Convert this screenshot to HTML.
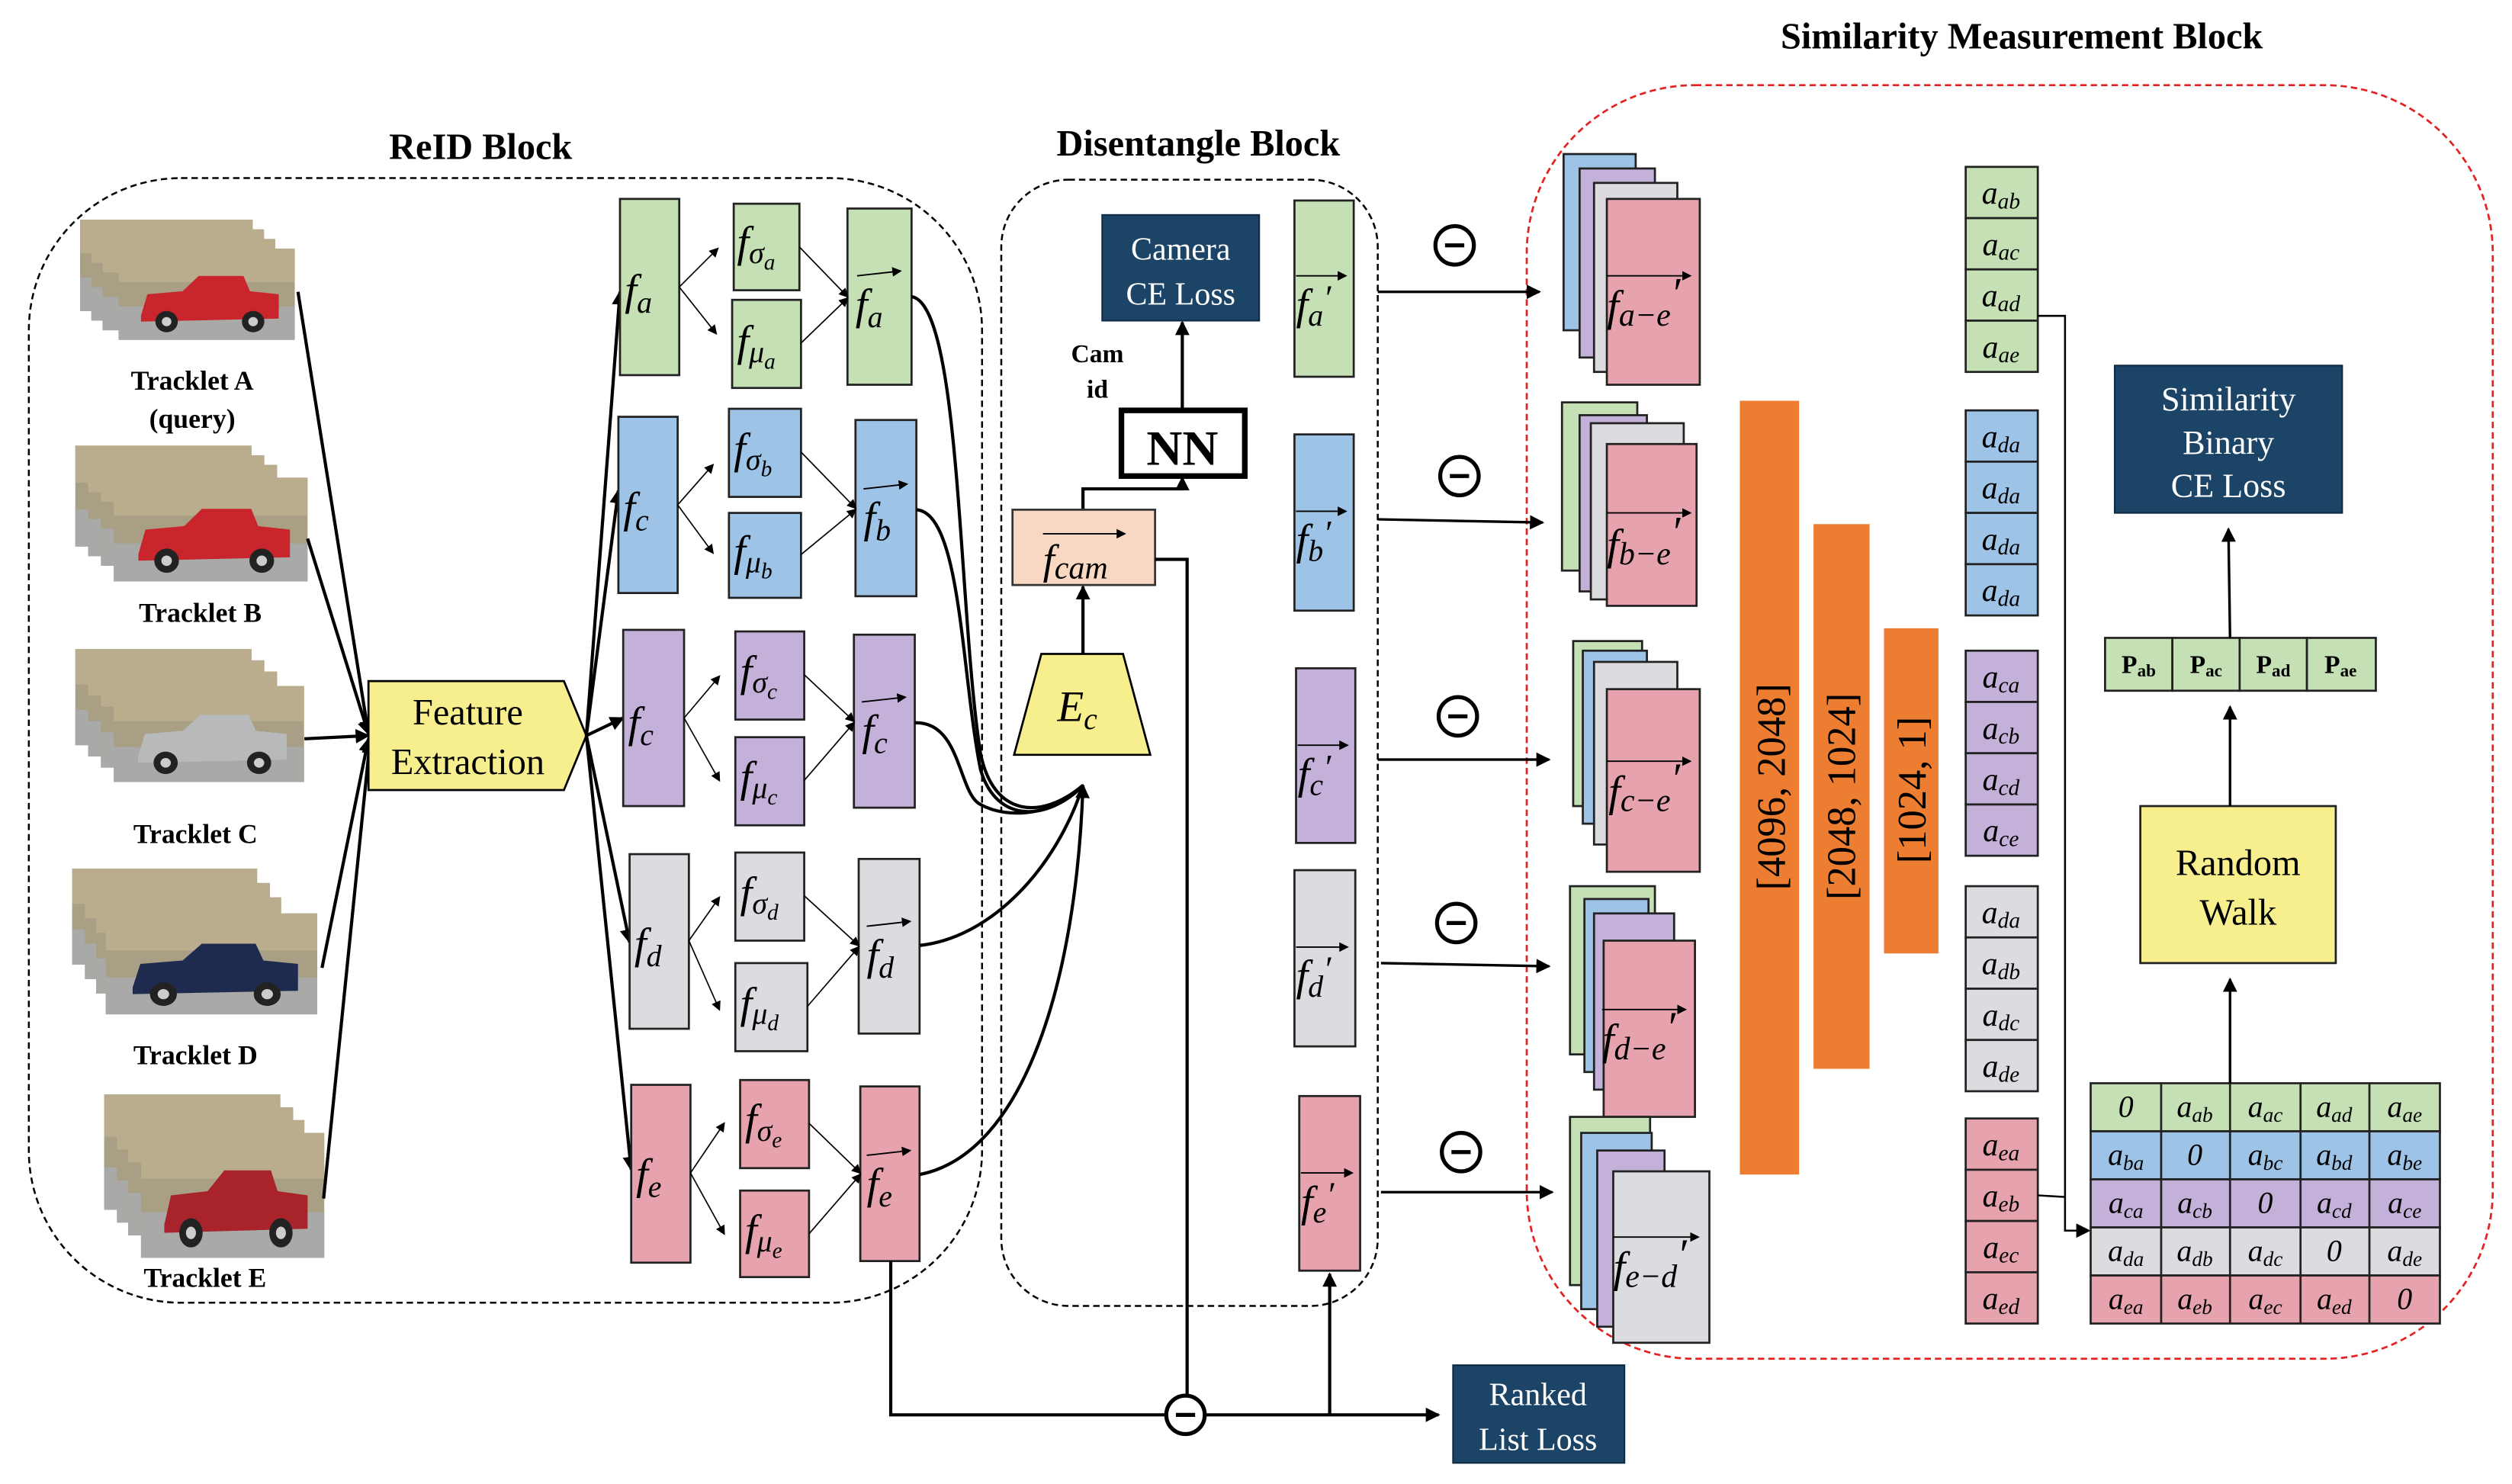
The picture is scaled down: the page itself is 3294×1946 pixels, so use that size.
<!DOCTYPE html>
<html><head><meta charset="utf-8">
<style>
html,body{margin:0;padding:0;background:#fff;}
svg{display:block;}
.t{font-family:"Liberation Serif",serif;}
.m{font-family:"Liberation Serif",serif;font-style:italic;}
.b{font-family:"Liberation Serif",serif;font-weight:bold;}
</style></head><body>
<svg width="3294" height="1946" viewBox="0 0 1568 926" xmlns="http://www.w3.org/2000/svg">
<defs>
<marker id="a" markerWidth="9" markerHeight="9" refX="8" refY="4.5" orient="auto" markerUnits="userSpaceOnUse"><path d="M0,0 L9,4.5 L0,9z" fill="#000"/></marker>
<marker id="s" markerWidth="6" markerHeight="6" refX="5" refY="3" orient="auto" markerUnits="userSpaceOnUse"><path d="M0,0 L6,3 L0,6z" fill="#000"/></marker>
<g id="ph">
<rect x="0" y="0" width="110" height="60" fill="#a89f85"/>
<rect x="0" y="0" width="110" height="22" fill="#b9ad8e"/>
<rect x="0" y="38" width="110" height="22" fill="#a9a9a7"/>
<path d="M14,44 L18,30 L40,28 L50,18 L78,18 L82,28 L100,30 L100,46 L14,48z" fill="currentColor"/>
<circle cx="30" cy="48" r="7" fill="#222"/><circle cx="84" cy="48" r="7" fill="#222"/>
<circle cx="30" cy="48" r="3" fill="#ccc"/><circle cx="84" cy="48" r="3" fill="#ccc"/>
</g>
</defs>

<text x="300" y="99" class="b" font-size="23" text-anchor="middle">ReID Block</text>
<text x="748" y="97" class="b" font-size="23" text-anchor="middle">Disentangle Block</text>
<text x="1262" y="30" class="b" font-size="23" text-anchor="middle">Similarity Measurement Block</text>

<rect x="18" y="111" width="595" height="702" rx="95" fill="none" stroke="#000" stroke-width="1.2" stroke-dasharray="4,2.5"/>
<rect x="625" y="112" width="235" height="703" rx="42" fill="none" stroke="#000" stroke-width="1.2" stroke-dasharray="4,2.5"/>
<rect x="953" y="53" width="603" height="795" rx="105" fill="none" stroke="#e32222" stroke-width="1.3" stroke-dasharray="4,2.5"/>

<g style="color:#c8262c">
<use href="#ph" transform="translate(50,137) scale(0.98,0.95)"/><use href="#ph" transform="translate(57,143) scale(0.98,0.95)"/><use href="#ph" transform="translate(64,149) scale(0.98,0.95)"/><use href="#ph" transform="translate(74,155) scale(1.0,0.95)"/>
</g>
<text x="120" y="243" class="b" font-size="17" text-anchor="middle">Tracklet A</text>
<text x="120" y="267" class="b" font-size="17" text-anchor="middle">(query)</text>
<g style="color:#c8262c">
<use href="#ph" transform="translate(47,278) scale(1.0,1.05)"/><use href="#ph" transform="translate(55,284) scale(1.0,1.05)"/><use href="#ph" transform="translate(63,290) scale(1.0,1.05)"/><use href="#ph" transform="translate(71,298) scale(1.1,1.08)"/>
</g>
<text x="125" y="388" class="b" font-size="17" text-anchor="middle">Tracklet B</text>
<g style="color:#b8b9bb">
<use href="#ph" transform="translate(47,405) scale(1.0,1.0)"/><use href="#ph" transform="translate(55,412) scale(1.0,1.0)"/><use href="#ph" transform="translate(63,419) scale(1.0,1.0)"/><use href="#ph" transform="translate(71,428) scale(1.08,1.0)"/>
</g>
<text x="122" y="526" class="b" font-size="17" text-anchor="middle">Tracklet C</text>
<g style="color:#1f2a4f">
<use href="#ph" transform="translate(45,542) scale(1.05,1.0)"/><use href="#ph" transform="translate(53,551) scale(1.05,1.0)"/><use href="#ph" transform="translate(60,560) scale(1.05,1.0)"/><use href="#ph" transform="translate(66,570) scale(1.2,1.05)"/>
</g>
<text x="122" y="664" class="b" font-size="17" text-anchor="middle">Tracklet D</text>
<g style="color:#a8232a">
<use href="#ph" transform="translate(65,683) scale(1.0,1.2)"/><use href="#ph" transform="translate(73,691) scale(1.0,1.2)"/><use href="#ph" transform="translate(80,699) scale(1.0,1.2)"/><use href="#ph" transform="translate(88,707) scale(1.04,1.3)"/>
</g>
<text x="128" y="803" class="b" font-size="17" text-anchor="middle">Tracklet E</text>

<g stroke="#000" stroke-width="2" fill="none" marker-end="url(#a)">
<line x1="186" y1="182" x2="230" y2="458"/>
<line x1="192" y1="336" x2="230" y2="458"/>
<line x1="190" y1="461" x2="230" y2="459"/>
<line x1="201" y1="604" x2="230" y2="461"/>
<line x1="202" y1="748" x2="231" y2="462"/>
</g>
<polygon points="230,425 352,425 366,459 352,493 230,493" fill="#f7ef8e" stroke="#000" stroke-width="1.3"/>
<text x="292" y="452" class="t" font-size="23" text-anchor="middle">Feature</text>
<text x="292" y="483" class="t" font-size="23" text-anchor="middle">Extraction</text>
<g stroke="#000" stroke-width="2" fill="none" marker-end="url(#a)">
<line x1="366" y1="459" x2="387" y2="182"/>
<line x1="366" y1="459" x2="386" y2="306"/>
<line x1="366" y1="459" x2="389" y2="448"/>
<line x1="366" y1="459" x2="393" y2="588"/>
<line x1="366" y1="459" x2="394" y2="730"/>
</g>

<g stroke="#222" stroke-width="1.3">
<rect x="387" y="124" width="37" height="110" fill="#c5e0b4"/><rect x="458" y="127" width="41" height="54" fill="#c5e0b4"/><rect x="457" y="187" width="43" height="55" fill="#c5e0b4"/><rect x="529" y="130" width="40" height="110" fill="#c5e0b4"/>
<rect x="386" y="260" width="37" height="110" fill="#9dc3e6"/><rect x="455" y="255" width="45" height="55" fill="#9dc3e6"/><rect x="455" y="320" width="45" height="53" fill="#9dc3e6"/><rect x="534" y="262" width="38" height="110" fill="#9dc3e6"/>
<rect x="389" y="393" width="38" height="110" fill="#c3b1d9"/><rect x="459" y="394" width="43" height="55" fill="#c3b1d9"/><rect x="459" y="460" width="43" height="55" fill="#c3b1d9"/><rect x="533" y="396" width="38" height="108" fill="#c3b1d9"/>
<rect x="393" y="533" width="37" height="109" fill="#dcdce0"/><rect x="459" y="532" width="43" height="55" fill="#dcdce0"/><rect x="459" y="601" width="45" height="55" fill="#dcdce0"/><rect x="536" y="536" width="38" height="109" fill="#dcdce0"/>
<rect x="394" y="677" width="37" height="111" fill="#e6a3ad"/><rect x="462" y="674" width="43" height="55" fill="#e6a3ad"/><rect x="462" y="743" width="43" height="54" fill="#e6a3ad"/><rect x="537" y="678" width="37" height="109" fill="#e6a3ad"/>
</g>
<g stroke="#000" stroke-width="0.8" fill="none" marker-end="url(#s)">
<line x1="424" y1="179" x2="448" y2="155"/><line x1="424" y1="179" x2="447" y2="208"/><line x1="499" y1="154" x2="529" y2="185"/><line x1="500" y1="214" x2="529" y2="186"/>
<line x1="423" y1="315" x2="445" y2="290"/><line x1="423" y1="315" x2="445" y2="345"/><line x1="500" y1="282" x2="534" y2="317"/><line x1="500" y1="346" x2="534" y2="318"/>
<line x1="427" y1="448" x2="449" y2="422"/><line x1="427" y1="448" x2="449" y2="487"/><line x1="502" y1="421" x2="533" y2="450"/><line x1="502" y1="487" x2="533" y2="451"/>
<line x1="430" y1="587" x2="449" y2="560"/><line x1="430" y1="587" x2="449" y2="630"/><line x1="502" y1="559" x2="536" y2="590"/><line x1="504" y1="628" x2="536" y2="591"/>
<line x1="431" y1="732" x2="452" y2="701"/><line x1="431" y1="732" x2="452" y2="770"/><line x1="505" y1="701" x2="537" y2="732"/><line x1="505" y1="770" x2="537" y2="733"/>
</g>
<g class="m" font-size="27">
<text x="390" y="190">f<tspan font-size="19" dy="5">a</tspan></text>
<text x="389" y="326">f<tspan font-size="19" dy="5">c</tspan></text>
<text x="392" y="460">f<tspan font-size="19" dy="5">c</tspan></text>
<text x="396" y="598">f<tspan font-size="19" dy="5">d</tspan></text>
<text x="397" y="742">f<tspan font-size="19" dy="5">e</tspan></text>
<text x="460" y="160">f<tspan font-size="19" dy="4">σ</tspan><tspan font-size="14" dy="4">a</tspan></text>
<text x="460" y="222">f<tspan font-size="19" dy="4">μ</tspan><tspan font-size="14" dy="4">a</tspan></text>
<text x="458" y="289">f<tspan font-size="19" dy="4">σ</tspan><tspan font-size="14" dy="4">b</tspan></text>
<text x="458" y="353">f<tspan font-size="19" dy="4">μ</tspan><tspan font-size="14" dy="4">b</tspan></text>
<text x="462" y="428">f<tspan font-size="19" dy="4">σ</tspan><tspan font-size="14" dy="4">c</tspan></text>
<text x="462" y="494">f<tspan font-size="19" dy="4">μ</tspan><tspan font-size="14" dy="4">c</tspan></text>
<text x="462" y="566">f<tspan font-size="19" dy="4">σ</tspan><tspan font-size="14" dy="4">d</tspan></text>
<text x="462" y="635">f<tspan font-size="19" dy="4">μ</tspan><tspan font-size="14" dy="4">d</tspan></text>
<text x="465" y="708">f<tspan font-size="19" dy="4">σ</tspan><tspan font-size="14" dy="4">e</tspan></text>
<text x="465" y="777">f<tspan font-size="19" dy="4">μ</tspan><tspan font-size="14" dy="4">e</tspan></text>
<text x="534" y="199">f<tspan font-size="19" dy="5">a</tspan></text>
<text x="539" y="332">f<tspan font-size="19" dy="5">b</tspan></text>
<text x="538" y="465">f<tspan font-size="19" dy="5">c</tspan></text>
<text x="541" y="605">f<tspan font-size="19" dy="5">d</tspan></text>
<text x="541" y="748">f<tspan font-size="19" dy="5">e</tspan></text>
</g>
<g stroke="#000" stroke-width="0.9" marker-end="url(#s)">
<line x1="535" y1="172" x2="562" y2="169"/><line x1="539" y1="305" x2="566" y2="302"/><line x1="538" y1="438" x2="565" y2="435"/><line x1="541" y1="578" x2="568" y2="575"/><line x1="541" y1="721" x2="568" y2="718"/>
</g>

<g stroke="#000" stroke-width="2" fill="none">
<path d="M569,185 C600,190 598,380 612,470 C620,510 650,512 676,490"/>
<path d="M572,318 C600,320 600,420 612,480 C622,515 655,512 676,490"/>
<path d="M571,451 C600,450 598,495 612,502 C630,512 660,508 676,490"/>
<path d="M574,590 C620,585 660,540 676,490"/>
<path d="M574,733 C640,720 672,610 676,490" marker-end="url(#a)"/>
</g>

<rect x="688" y="134" width="98" height="66" fill="#1b4466" stroke="#0f2a42"/>
<text x="737" y="162" class="t" font-size="20" fill="#fff" text-anchor="middle">Camera</text>
<text x="737" y="190" class="t" font-size="20" fill="#fff" text-anchor="middle">CE Loss</text>
<text x="685" y="226" class="b" font-size="16" text-anchor="middle">Cam</text>
<text x="685" y="248" class="b" font-size="16" text-anchor="middle">id</text>
<rect x="700" y="256" width="77" height="41" fill="#fff" stroke="#000" stroke-width="3.5"/>
<text x="738" y="290" class="b" font-size="31" text-anchor="middle">NN</text>
<line x1="738" y1="255" x2="738" y2="201" stroke="#000" stroke-width="2" marker-end="url(#a)"/>
<polyline points="676,318 676,305 738,305 738,298" fill="none" stroke="#000" stroke-width="2" marker-end="url(#a)"/>
<rect x="632" y="318" width="89" height="47" fill="#f8d8c2" stroke="#333" stroke-width="1.3"/>
<text x="651" y="358" class="m" font-size="26">f<tspan font-size="20" dy="3">cam</tspan></text>
<line x1="651" y1="333" x2="702" y2="333" stroke="#000" stroke-width="0.9" marker-end="url(#s)"/>
<polygon points="650,408 701,408 718,471 633,471" fill="#f7ef8e" stroke="#000" stroke-width="1.3"/>
<text x="660" y="450" class="m" font-size="27">E<tspan font-size="19" dy="5">c</tspan></text>
<line x1="676" y1="408" x2="676" y2="366" stroke="#000" stroke-width="2" marker-end="url(#a)"/>

<g stroke="#222" stroke-width="1.3">
<rect x="808" y="125" width="37" height="110" fill="#c5e0b4"/>
<rect x="808" y="271" width="37" height="110" fill="#9dc3e6"/>
<rect x="809" y="417" width="37" height="109" fill="#c3b1d9"/>
<rect x="808" y="543" width="38" height="110" fill="#dcdce0"/>
<rect x="811" y="684" width="38" height="109" fill="#e6a3ad"/>
</g>
<g class="m" font-size="27">
<text x="809" y="199">f<tspan font-size="19" dy="4">a</tspan><tspan dy="-10" font-size="22">′</tspan></text>
<text x="809" y="346">f<tspan font-size="19" dy="4">b</tspan><tspan dy="-10" font-size="22">′</tspan></text>
<text x="810" y="492">f<tspan font-size="19" dy="4">c</tspan><tspan dy="-10" font-size="22">′</tspan></text>
<text x="809" y="618">f<tspan font-size="19" dy="4">d</tspan><tspan dy="-10" font-size="22">′</tspan></text>
<text x="812" y="759">f<tspan font-size="19" dy="4">e</tspan><tspan dy="-10" font-size="22">′</tspan></text>
</g>
<g stroke="#000" stroke-width="0.9" marker-end="url(#s)">
<line x1="809" y1="172" x2="840" y2="172"/><line x1="809" y1="319" x2="840" y2="319"/><line x1="810" y1="465" x2="841" y2="465"/><line x1="809" y1="591" x2="841" y2="591"/><line x1="812" y1="732" x2="844" y2="732"/>
</g>

<g fill="#fff" stroke="#000" stroke-width="2.5">
<circle cx="908" cy="153" r="12"/><circle cx="911" cy="297" r="12"/><circle cx="910" cy="447" r="12"/><circle cx="909" cy="576" r="12"/><circle cx="912" cy="719" r="12"/><circle cx="740" cy="883" r="12"/>
</g>
<g stroke="#000" stroke-width="2.5">
<line x1="902" y1="153" x2="914" y2="153"/><line x1="905" y1="297" x2="917" y2="297"/><line x1="904" y1="447" x2="916" y2="447"/><line x1="903" y1="576" x2="915" y2="576"/><line x1="906" y1="719" x2="918" y2="719"/><line x1="734" y1="883" x2="746" y2="883"/>
</g>
<g stroke="#000" stroke-width="1.6" marker-end="url(#a)">
<line x1="860" y1="182" x2="961" y2="182"/>
<line x1="860" y1="324" x2="963" y2="326"/>
<line x1="860" y1="474" x2="967" y2="474"/>
<line x1="862" y1="601" x2="967" y2="603"/>
<line x1="862" y1="744" x2="969" y2="744"/>
</g>

<g stroke="#000" stroke-width="2" fill="none">
<polyline points="556,787 556,883 728,883"/>
<polyline points="721,349 741,349 741,871"/>
<line x1="752" y1="883" x2="898" y2="883" marker-end="url(#a)"/>
<line x1="830" y1="883" x2="830" y2="795" marker-end="url(#a)"/>
</g>
<rect x="907" y="852" width="107" height="61" fill="#1b4466" stroke="#0f2a42"/>
<text x="960" y="877" class="t" font-size="20" fill="#fff" text-anchor="middle">Ranked</text>
<text x="960" y="905" class="t" font-size="20" fill="#fff" text-anchor="middle">List Loss</text>

<g stroke="#222" stroke-width="1.3">
<rect x="976" y="96" width="45" height="110" fill="#9dc3e6"/><rect x="986" y="105" width="47" height="118" fill="#c3b1d9"/><rect x="995" y="114" width="52" height="118" fill="#dcdce0"/><rect x="1003" y="124" width="58" height="116" fill="#e6a3ad"/>
<rect x="975" y="251" width="47" height="105" fill="#c5e0b4"/><rect x="986" y="259" width="42" height="110" fill="#c3b1d9"/><rect x="993" y="264" width="58" height="110" fill="#dcdce0"/><rect x="1003" y="277" width="56" height="101" fill="#e6a3ad"/>
<rect x="982" y="400" width="43" height="103" fill="#c5e0b4"/><rect x="988" y="406" width="40" height="108" fill="#9dc3e6"/><rect x="995" y="413" width="52" height="114" fill="#dcdce0"/><rect x="1003" y="430" width="58" height="114" fill="#e6a3ad"/>
<rect x="980" y="553" width="53" height="105" fill="#c5e0b4"/><rect x="989" y="561" width="40" height="108" fill="#9dc3e6"/><rect x="995" y="570" width="50" height="110" fill="#c3b1d9"/><rect x="1001" y="587" width="57" height="110" fill="#e6a3ad"/>
<rect x="980" y="697" width="50" height="105" fill="#c5e0b4"/><rect x="987" y="707" width="44" height="110" fill="#9dc3e6"/><rect x="997" y="718" width="42" height="110" fill="#c3b1d9"/><rect x="1007" y="731" width="60" height="107" fill="#dcdce0"/>
</g>
<g class="m" font-size="27">
<text x="1003" y="200">f<tspan font-size="20" dy="3">a−e</tspan><tspan dy="-11">′</tspan></text>
<text x="1003" y="349">f<tspan font-size="20" dy="3">b−e</tspan><tspan dy="-11">′</tspan></text>
<text x="1004" y="503">f<tspan font-size="20" dy="3">c−e</tspan><tspan dy="-11">′</tspan></text>
<text x="1000" y="658">f<tspan font-size="20" dy="3">d−e</tspan><tspan dy="-11">′</tspan></text>
<text x="1007" y="800">f<tspan font-size="20" dy="3">e−d</tspan><tspan dy="-11">′</tspan></text>
</g>
<g stroke="#000" stroke-width="0.9" marker-end="url(#s)">
<line x1="1003" y1="172" x2="1055" y2="172"/><line x1="1003" y1="320" x2="1055" y2="320"/><line x1="1003" y1="475" x2="1055" y2="475"/><line x1="1000" y1="630" x2="1052" y2="630"/><line x1="1007" y1="772" x2="1060" y2="772"/>
</g>

<rect x="1086" y="250" width="37" height="483" fill="#ed7d31"/>
<rect x="1132" y="327" width="35" height="340" fill="#ed7d31"/>
<rect x="1176" y="392" width="34" height="203" fill="#ed7d31"/>
<text transform="translate(1114,491) rotate(-90)" class="t" font-size="25" text-anchor="middle">[4096, 2048]</text>
<text transform="translate(1158,497) rotate(-90)" class="t" font-size="25" text-anchor="middle">[2048, 1024]</text>
<text transform="translate(1202,493) rotate(-90)" class="t" font-size="25" text-anchor="middle">[1024, 1]</text>

<g stroke="#222" stroke-width="1.3">
<rect x="1227" y="104" width="45" height="32" fill="#c5e0b4"/><rect x="1227" y="136" width="45" height="32" fill="#c5e0b4"/><rect x="1227" y="168" width="45" height="32" fill="#c5e0b4"/><rect x="1227" y="200" width="45" height="32" fill="#c5e0b4"/>
<rect x="1227" y="256" width="45" height="32" fill="#9dc3e6"/><rect x="1227" y="288" width="45" height="32" fill="#9dc3e6"/><rect x="1227" y="320" width="45" height="32" fill="#9dc3e6"/><rect x="1227" y="352" width="45" height="32" fill="#9dc3e6"/>
<rect x="1227" y="406" width="45" height="32" fill="#c3b1d9"/><rect x="1227" y="438" width="45" height="32" fill="#c3b1d9"/><rect x="1227" y="470" width="45" height="32" fill="#c3b1d9"/><rect x="1227" y="502" width="45" height="32" fill="#c3b1d9"/>
<rect x="1227" y="553" width="45" height="32" fill="#dcdce0"/><rect x="1227" y="585" width="45" height="32" fill="#dcdce0"/><rect x="1227" y="617" width="45" height="32" fill="#dcdce0"/><rect x="1227" y="649" width="45" height="32" fill="#dcdce0"/>
<rect x="1227" y="698" width="45" height="32" fill="#e6a3ad"/><rect x="1227" y="730" width="45" height="32" fill="#e6a3ad"/><rect x="1227" y="762" width="45" height="32" fill="#e6a3ad"/><rect x="1227" y="794" width="45" height="32" fill="#e6a3ad"/>
</g>
<g class="m" font-size="20" text-anchor="middle">
<text x="1249" y="127">a<tspan font-size="14" dy="3">ab</tspan></text><text x="1249" y="159">a<tspan font-size="14" dy="3">ac</tspan></text><text x="1249" y="191">a<tspan font-size="14" dy="3">ad</tspan></text><text x="1249" y="223">a<tspan font-size="14" dy="3">ae</tspan></text>
<text x="1249" y="279">a<tspan font-size="14" dy="3">da</tspan></text><text x="1249" y="311">a<tspan font-size="14" dy="3">da</tspan></text><text x="1249" y="343">a<tspan font-size="14" dy="3">da</tspan></text><text x="1249" y="375">a<tspan font-size="14" dy="3">da</tspan></text>
<text x="1249" y="429">a<tspan font-size="14" dy="3">ca</tspan></text><text x="1249" y="461">a<tspan font-size="14" dy="3">cb</tspan></text><text x="1249" y="493">a<tspan font-size="14" dy="3">cd</tspan></text><text x="1249" y="525">a<tspan font-size="14" dy="3">ce</tspan></text>
<text x="1249" y="576">a<tspan font-size="14" dy="3">da</tspan></text><text x="1249" y="608">a<tspan font-size="14" dy="3">db</tspan></text><text x="1249" y="640">a<tspan font-size="14" dy="3">dc</tspan></text><text x="1249" y="672">a<tspan font-size="14" dy="3">de</tspan></text>
<text x="1249" y="721">a<tspan font-size="14" dy="3">ea</tspan></text><text x="1249" y="753">a<tspan font-size="14" dy="3">eb</tspan></text><text x="1249" y="785">a<tspan font-size="14" dy="3">ec</tspan></text><text x="1249" y="817">a<tspan font-size="14" dy="3">ed</tspan></text>
</g>
<g stroke="#000" stroke-width="1.2" fill="none">
<polyline points="1272,197 1289,197 1289,768 1304,768" marker-end="url(#a)"/>
<polyline points="1272,746 1289,747"/>
</g>

<g stroke="#222" stroke-width="1.3">
<rect x="1305" y="676" width="218" height="30" fill="#c5e0b4"/>
<rect x="1305" y="706" width="218" height="30" fill="#9dc3e6"/>
<rect x="1305" y="736" width="218" height="30" fill="#c3b1d9"/>
<rect x="1305" y="766" width="218" height="30" fill="#dcdce0"/>
<rect x="1305" y="796" width="218" height="30" fill="#e6a3ad"/>
<line x1="1349" y1="676" x2="1349" y2="826"/><line x1="1392" y1="676" x2="1392" y2="826"/><line x1="1436" y1="676" x2="1436" y2="826"/><line x1="1479" y1="676" x2="1479" y2="826"/>
</g>
<g class="m" font-size="19" text-anchor="middle">
<text x="1327" y="697">0</text><text x="1370" y="697">a<tspan font-size="13" dy="3">ab</tspan></text><text x="1414" y="697">a<tspan font-size="13" dy="3">ac</tspan></text><text x="1457" y="697">a<tspan font-size="13" dy="3">ad</tspan></text><text x="1501" y="697">a<tspan font-size="13" dy="3">ae</tspan></text>
<text x="1327" y="727">a<tspan font-size="13" dy="3">ba</tspan></text><text x="1370" y="727">0</text><text x="1414" y="727">a<tspan font-size="13" dy="3">bc</tspan></text><text x="1457" y="727">a<tspan font-size="13" dy="3">bd</tspan></text><text x="1501" y="727">a<tspan font-size="13" dy="3">be</tspan></text>
<text x="1327" y="757">a<tspan font-size="13" dy="3">ca</tspan></text><text x="1370" y="757">a<tspan font-size="13" dy="3">cb</tspan></text><text x="1414" y="757">0</text><text x="1457" y="757">a<tspan font-size="13" dy="3">cd</tspan></text><text x="1501" y="757">a<tspan font-size="13" dy="3">ce</tspan></text>
<text x="1327" y="787">a<tspan font-size="13" dy="3">da</tspan></text><text x="1370" y="787">a<tspan font-size="13" dy="3">db</tspan></text><text x="1414" y="787">a<tspan font-size="13" dy="3">dc</tspan></text><text x="1457" y="787">0</text><text x="1501" y="787">a<tspan font-size="13" dy="3">de</tspan></text>
<text x="1327" y="817">a<tspan font-size="13" dy="3">ea</tspan></text><text x="1370" y="817">a<tspan font-size="13" dy="3">eb</tspan></text><text x="1414" y="817">a<tspan font-size="13" dy="3">ec</tspan></text><text x="1457" y="817">a<tspan font-size="13" dy="3">ed</tspan></text><text x="1501" y="817">0</text>
</g>

<rect x="1336" y="503" width="122" height="98" fill="#f7ef8e" stroke="#222" stroke-width="1.3"/>
<text x="1397" y="546" class="t" font-size="23" text-anchor="middle">Random</text>
<text x="1397" y="577" class="t" font-size="23" text-anchor="middle">Walk</text>
<g stroke="#222" stroke-width="1.3" fill="#c5e0b4">
<rect x="1314" y="398" width="42" height="33"/><rect x="1356" y="398" width="42" height="33"/><rect x="1398" y="398" width="42" height="33"/><rect x="1440" y="398" width="43" height="33"/>
</g>
<g class="b" font-size="16" text-anchor="middle">
<text x="1335" y="420">P<tspan font-size="11" dy="2">ab</tspan></text><text x="1377" y="420">P<tspan font-size="11" dy="2">ac</tspan></text><text x="1419" y="420">P<tspan font-size="11" dy="2">ad</tspan></text><text x="1461" y="420">P<tspan font-size="11" dy="2">ae</tspan></text>
</g>
<rect x="1320" y="228" width="142" height="92" fill="#1b4466" stroke="#0f2a42"/>
<text x="1391" y="256" class="t" font-size="21" fill="#fff" text-anchor="middle">Similarity</text>
<text x="1391" y="283" class="t" font-size="21" fill="#fff" text-anchor="middle">Binary</text>
<text x="1391" y="310" class="t" font-size="21" fill="#fff" text-anchor="middle">CE Loss</text>
<g stroke="#000" stroke-width="1.6" marker-end="url(#a)">
<line x1="1392" y1="676" x2="1392" y2="611"/>
<line x1="1392" y1="503" x2="1392" y2="441"/>
<line x1="1392" y1="398" x2="1391" y2="330"/>
</g>
</svg>
</body></html>
